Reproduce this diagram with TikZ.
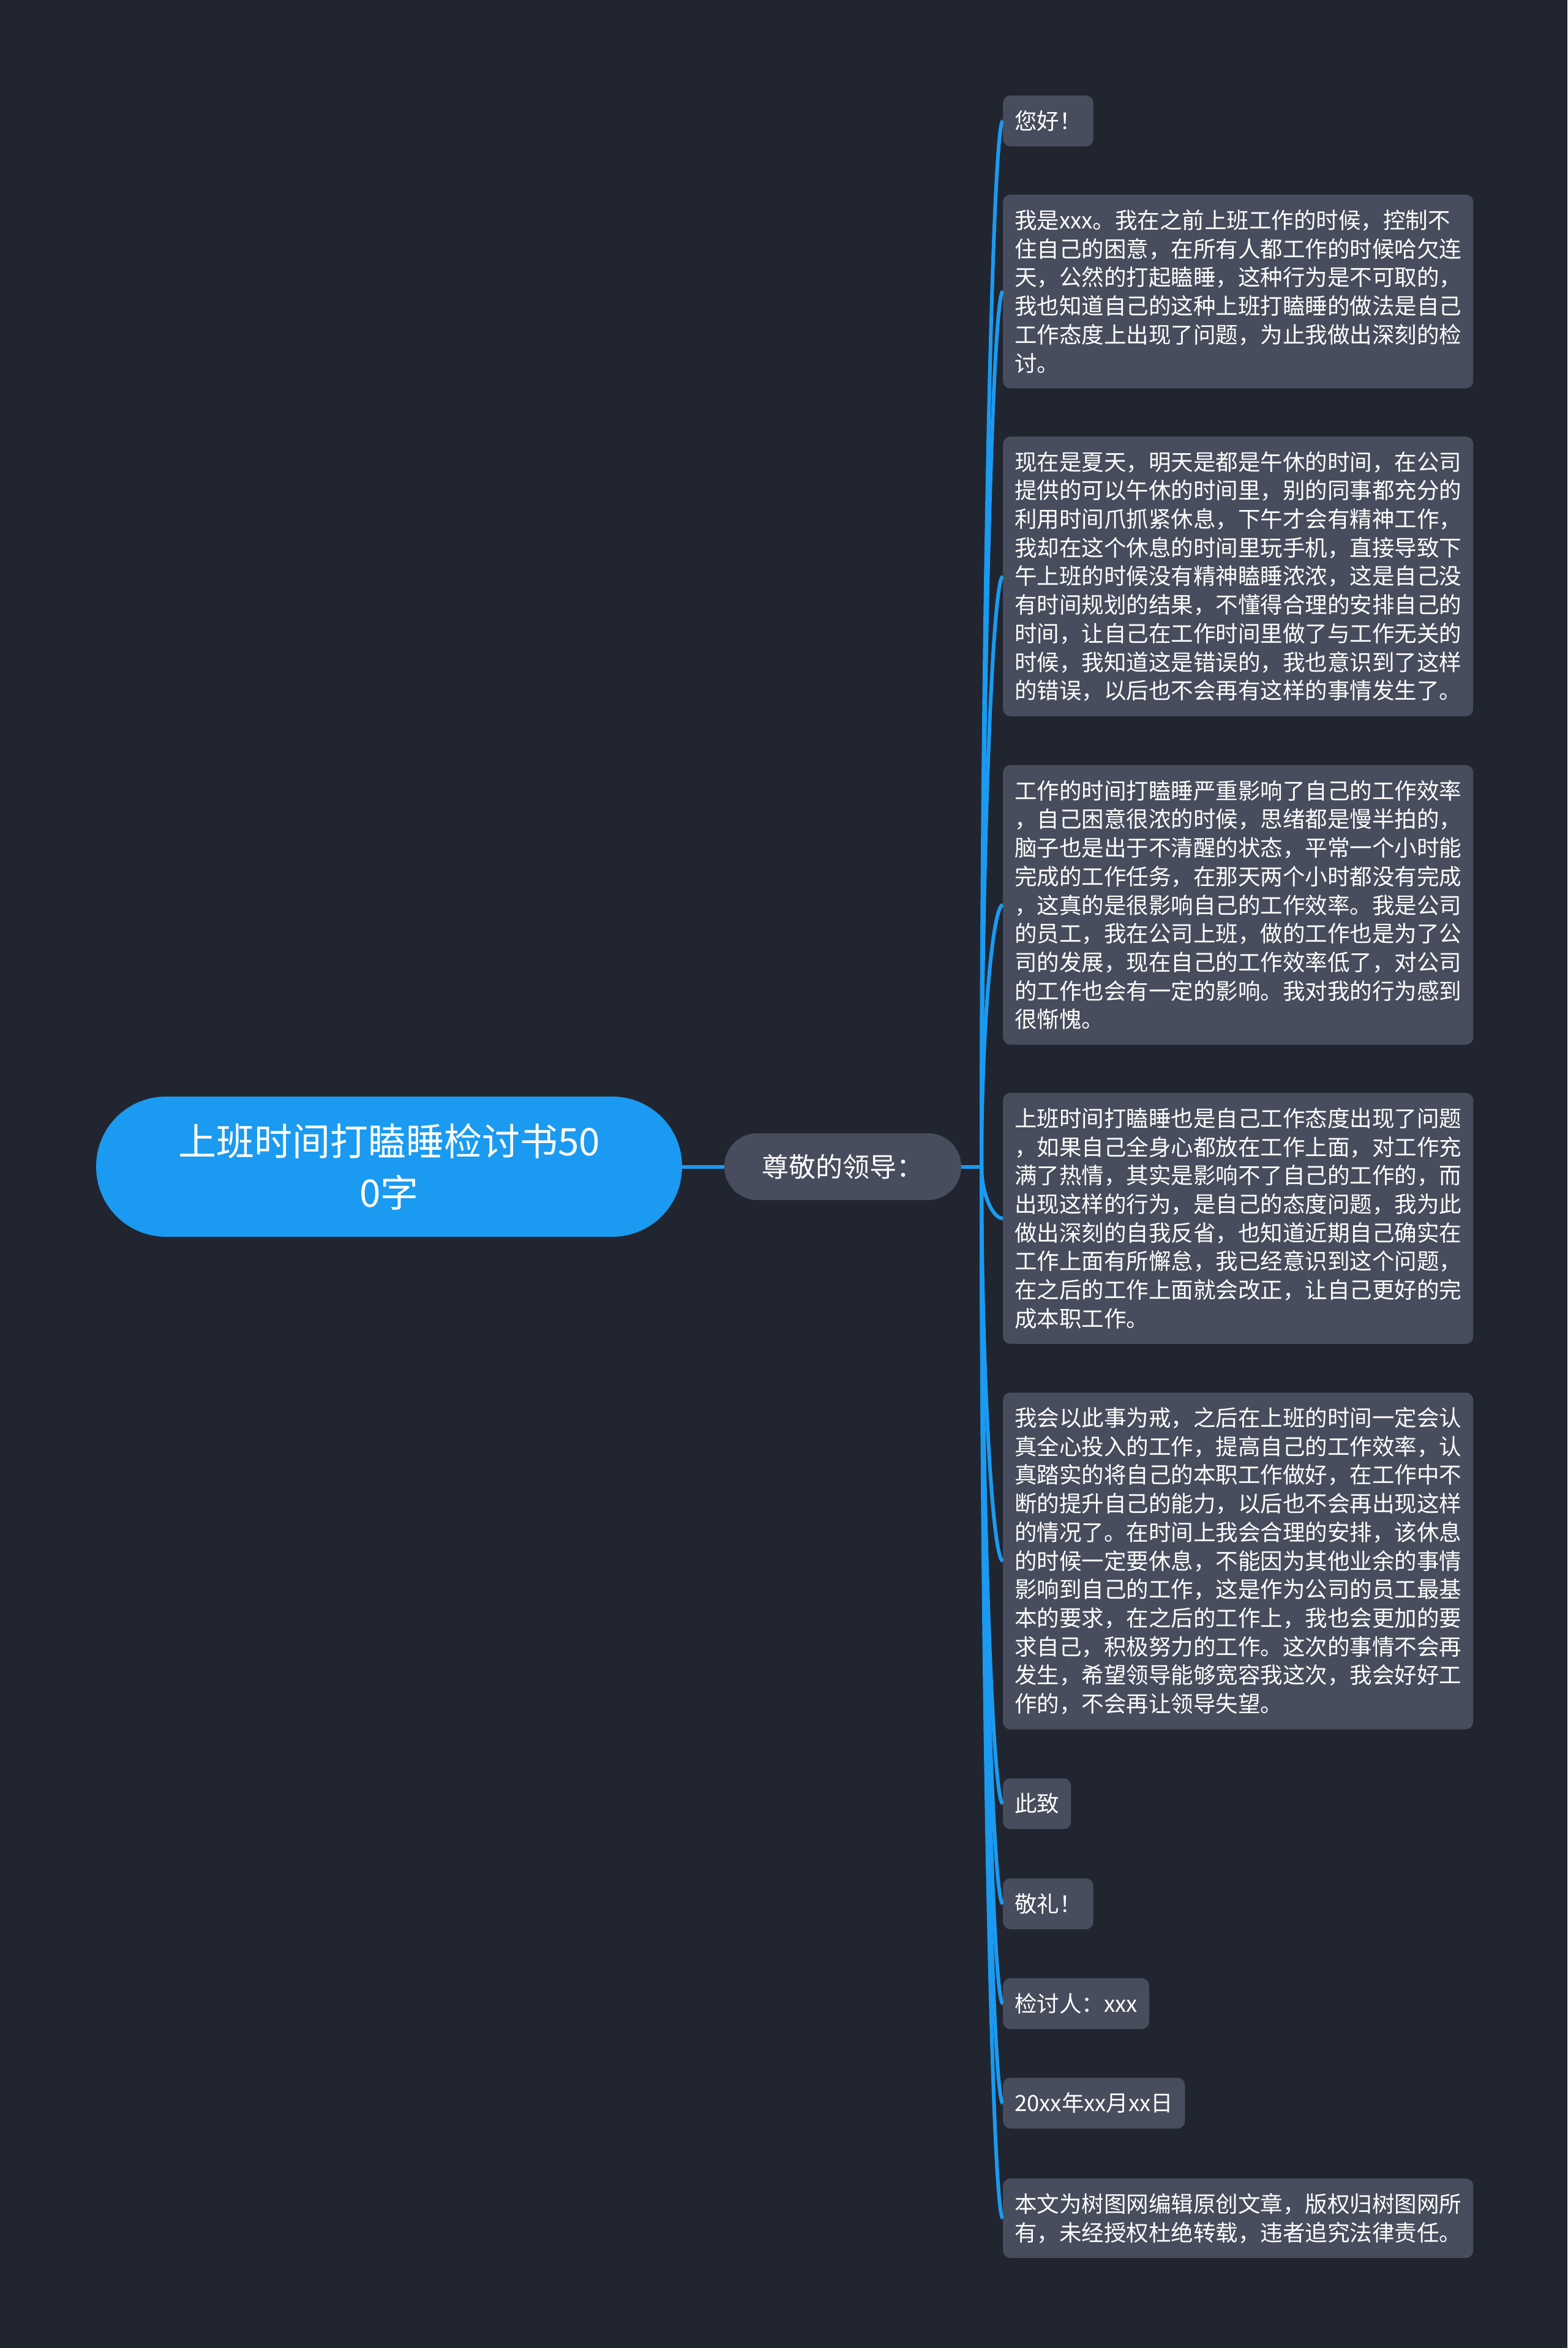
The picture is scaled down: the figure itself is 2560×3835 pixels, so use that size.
\documentclass[tikz,border=0pt]{standalone}
\usepackage{fontspec}
\setmainfont{Noto Sans CJK SC}
\usetikzlibrary{calc}
\definecolor{bg}{HTML}{212530}
\definecolor{leafgray}{HTML}{474D5C}
\definecolor{mapblue}{HTML}{1A9AF0}
\begin{document}
\begin{tikzpicture}[x=1pt,y=-1pt,
  rootnode/.style={fill=mapblue, text=white, rounded corners=114pt, minimum width=957pt, minimum height=229pt, align=center, inner sep=0pt, font=\fontsize{62}{84}\selectfont},
  subnode/.style={fill=leafgray, text=white, rounded corners=54pt, minimum width=387pt, minimum height=109pt, inner sep=0pt, font=\fontsize{44}{52}\selectfont},
  leaf/.style={fill=leafgray, text=white, rounded corners=12pt, anchor=west, align=left, inner xsep=19pt, inner ysep=0pt, font=\fontsize{36.5}{46.7}\selectfont},
  conn/.style={draw=mapblue, line width=6pt},
]
\useasboundingbox (0,0) rectangle (2560,3835);
\fill[bg] (0,0) rectangle (2560,3835);

\node[rootnode] (root) at (635.5,1905.5) {上班时间打瞌睡检讨书50\\0字};
\node[subnode] (lead) at (1376.5,1905.5) {尊敬的领导：};
\coordinate (J) at (1603,1905.5);

\node[leaf, minimum height=83pt] (l1) at (1638,197.5) {您好！};
\node[leaf, minimum height=316.5pt] (l2) at (1638,476) {我是xxx。我在之前上班工作的时候，控制不\\住自己的困意，在所有人都工作的时候哈欠连\\天，公然的打起瞌睡，这种行为是不可取的，\\我也知道自己的这种上班打瞌睡的做法是自己\\工作态度上出现了问题，为止我做出深刻的检\\讨。};
\node[leaf, minimum height=456.6pt] (l3) at (1638,941.5) {现在是夏天，明天是都是午休的时间，在公司\\提供的可以午休的时间里，别的同事都充分的\\利用时间爪抓紧休息，下午才会有精神工作，\\我却在这个休息的时间里玩手机，直接导致下\\午上班的时候没有精神瞌睡浓浓，这是自己没\\有时间规划的结果，不懂得合理的安排自己的\\时间，让自己在工作时间里做了与工作无关的\\时候，我知道这是错误的，我也意识到了这样\\的错误，以后也不会再有这样的事情发生了。};
\node[leaf, minimum height=456.6pt] (l4) at (1638,1478) {工作的时间打瞌睡严重影响了自己的工作效率\\，自己困意很浓的时候，思绪都是慢半拍的，\\脑子也是出于不清醒的状态，平常一个小时能\\完成的工作任务，在那天两个小时都没有完成\\，这真的是很影响自己的工作效率。我是公司\\的员工，我在公司上班，做的工作也是为了公\\司的发展，现在自己的工作效率低了，对公司\\的工作也会有一定的影响。我对我的行为感到\\很惭愧。};
\node[leaf, minimum height=409.9pt] (l5) at (1638,1990) {上班时间打瞌睡也是自己工作态度出现了问题\\，如果自己全身心都放在工作上面，对工作充\\满了热情，其实是影响不了自己的工作的，而\\出现这样的行为，是自己的态度问题，我为此\\做出深刻的自我反省，也知道近期自己确实在\\工作上面有所懈怠，我已经意识到这个问题，\\在之后的工作上面就会改正，让自己更好的完\\成本职工作。};
\node[leaf, minimum height=550pt] (l6) at (1638,2549.5) {我会以此事为戒，之后在上班的时间一定会认\\真全心投入的工作，提高自己的工作效率，认\\真踏实的将自己的本职工作做好，在工作中不\\断的提升自己的能力，以后也不会再出现这样\\的情况了。在时间上我会合理的安排，该休息\\的时候一定要休息，不能因为其他业余的事情\\影响到自己的工作，这是作为公司的员工最基\\本的要求，在之后的工作上，我也会更加的要\\求自己，积极努力的工作。这次的事情不会再\\发生，希望领导能够宽容我这次，我会好好工\\作的，不会再让领导失望。};
\node[leaf, minimum height=83pt] (l7) at (1638,2946) {此致};
\node[leaf, minimum height=83pt] (l8) at (1638,3109.5) {敬礼！};
\node[leaf, minimum height=83pt] (l9) at (1638,3272.5) {检讨人：xxx};
\node[leaf, minimum height=83pt] (l10) at (1638,3435) {20xx年xx月xx日};
\node[leaf, minimum height=129.7pt] (l11) at (1638,3623) {本文为树图网编辑原创文章，版权归树图网所\\有，未经授权杜绝转载，违者追究法律责任。};

\draw[conn] (root.east) -- (lead.west);
\draw[conn] (lead.east) -- (J);
\foreach \i in {1,...,11}
  \draw[conn] let \p1=(J), \p2=(l\i.west) in
    (\p1) .. controls (\x1,{0.5*\y1+0.5*\y2}) and ({0.5*\x1+0.5*\x2},\y2) .. (\p2);
\end{tikzpicture}
\end{document}
